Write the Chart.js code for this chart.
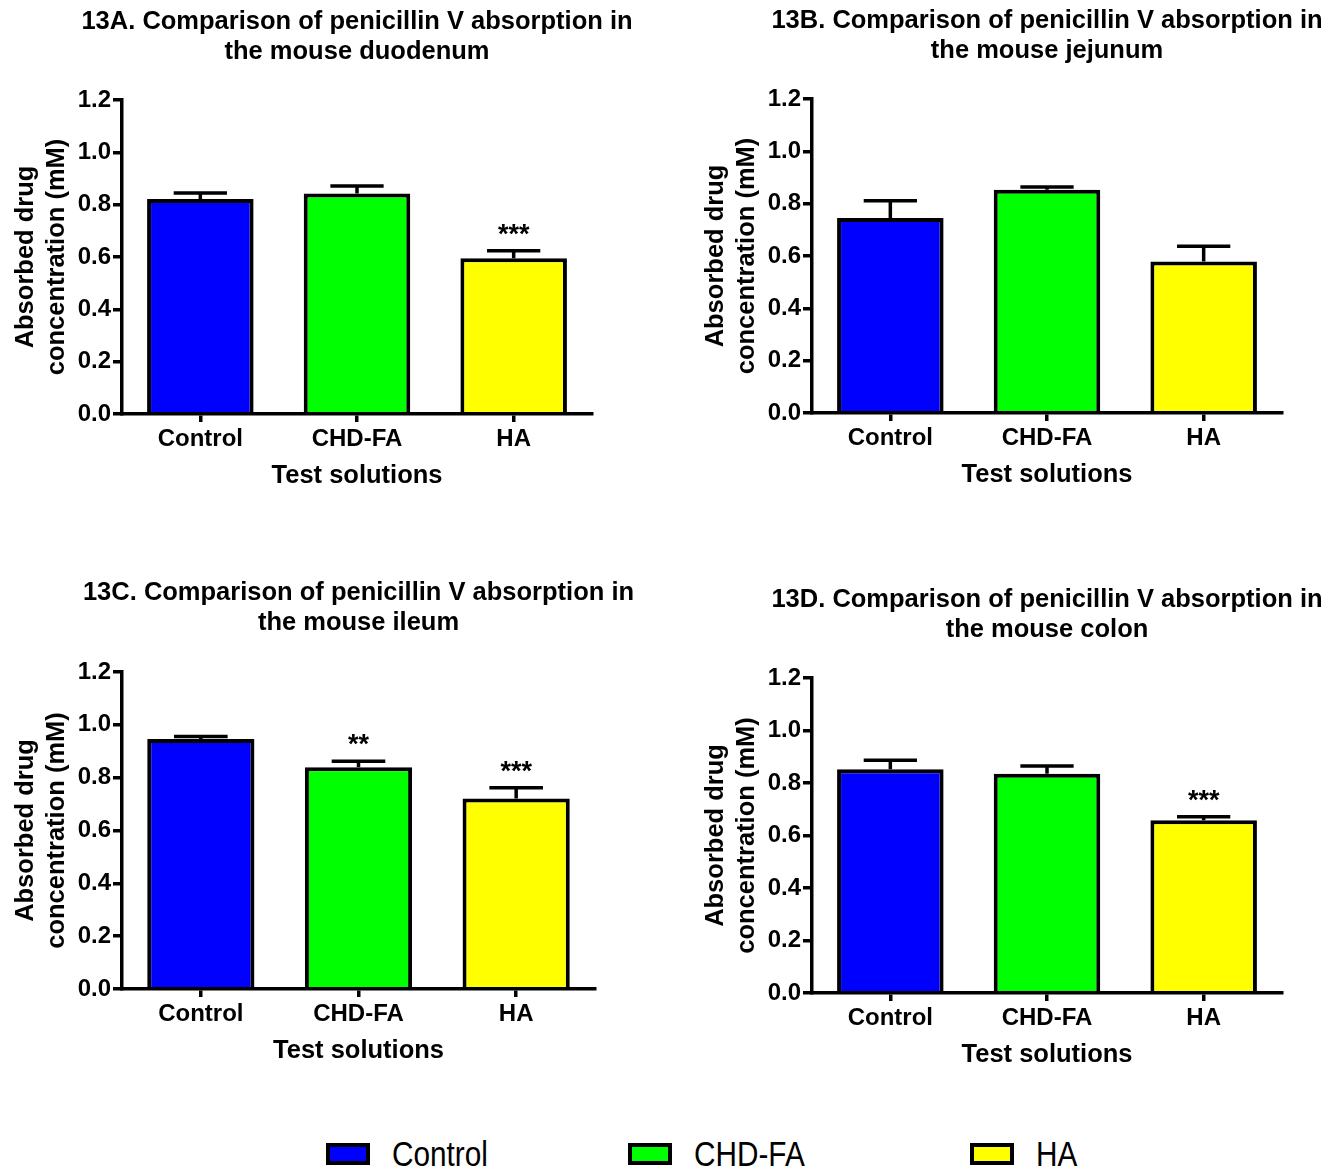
<!DOCTYPE html>
<html>
<head>
<meta charset="utf-8">
<script src="https://cdn.jsdelivr.net/npm/chart.js@4.4.0/dist/chart.umd.min.js"></script>
<style>
  html, body { margin: 0; padding: 0; background: #fff; }
  body { width: 1340px; height: 1167px; position: relative; overflow: hidden; font-family: "Liberation Sans", Arial, sans-serif; }
  canvas { position: absolute; }
  .legend-item { position: absolute; top: 1136px; height: 40px; width: 260px; }
  .swatch { position: absolute; top: 7px; left: 0; width: 44px; height: 22px; box-sizing: border-box; border: 4px solid #000; }
  .legend-label { position: absolute; left: 66px; top: 0; font-size: 35px; line-height: 35px; color: #000;
                  transform: scaleX(0.85); transform-origin: left top; white-space: nowrap; }
</style>
</head>
<body>
<canvas id="chA"></canvas>
<canvas id="chB"></canvas>
<canvas id="chC"></canvas>
<canvas id="chD"></canvas>

<div class="legend-item" style="left:326px"><div class="swatch" style="background:#0000ff"></div><div class="legend-label">Control</div></div>
<div class="legend-item" style="left:628px"><div class="swatch" style="background:#00ff00"></div><div class="legend-label">CHD-FA</div></div>
<div class="legend-item" style="left:970px"><div class="swatch" style="background:#ffff00"></div><div class="legend-label">HA</div></div>

<script>
var categories = ['Control', 'CHD-FA', 'HA'];
var barColors = ['#0000ff', '#00ff00', '#ffff00'];
var yTickLabels = ['0.0', '0.2', '0.4', '0.6', '0.8', '1.0', '1.2'];

// mean and SEM (upper error only), mM
var duodenumMean = [0.822, 0.843, 0.595];
var duodenumSem = [0.023, 0.028, 0.029];
var duodenumStars = ['', '', '***'];

var jejunumMean = [0.745, 0.853, 0.579];
var jejunumSem = [0.066, 0.011, 0.058];
var jejunumStars = ['', '', ''];

var ileumMean = [0.946, 0.839, 0.721];
var ileumSem = [0.010, 0.023, 0.041];
var ileumStars = ['', '**', '***'];

var colonMean = [0.852, 0.835, 0.658];
var colonSem = [0.035, 0.030, 0.013];
var colonStars = ['', '', '***'];

var FONT = '"Liberation Sans", Arial, sans-serif';
var AXIS_H = 100;

var panels = [
    { id: 'chA', title: ['13A. Comparison of penicillin V absorption in', 'the mouse duodenum'],
      mean: duodenumMean, sem: duodenumSem, stars: duodenumStars,
      left: 0, top: 0, width: 670, padRight: 78, titleY: 22, plotTop: 100, plotBottom: 414 },
    { id: 'chB', title: ['13B. Comparison of penicillin V absorption in', 'the mouse jejunum'],
      mean: jejunumMean, sem: jejunumSem, stars: jejunumStars,
      left: 690, top: 0, width: 650, padRight: 58, titleY: 21, plotTop: 99, plotBottom: 413 },
    { id: 'chC', title: ['13C. Comparison of penicillin V absorption in', 'the mouse ileum'],
      mean: ileumMean, sem: ileumSem, stars: ileumStars,
      left: 0, top: 571, width: 670, padRight: 75, titleY: 22, plotTop: 101, plotBottom: 418 },
    { id: 'chD', title: ['13D. Comparison of penicillin V absorption in', 'the mouse colon'],
      mean: colonMean, sem: colonSem, stars: colonStars,
      left: 690, top: 578, width: 650, padRight: 58, titleY: 22, plotTop: 100, plotBottom: 415 }
];

function makeChart(p) {
    var canvas = document.getElementById(p.id);
    canvas.width = p.width;
    canvas.height = p.plotBottom + AXIS_H;
    canvas.style.left = p.left + 'px';
    canvas.style.top = p.top + 'px';

    // error bars, significance stars and the two-line panel title
    var extras = {
        id: 'extras',
        afterDatasetsDraw: function (chart) {
            var ctx = chart.ctx;
            var y = chart.scales.y;
            var meta = chart.getDatasetMeta(0);
            ctx.save();
            ctx.strokeStyle = '#000';
            ctx.lineWidth = 3.5;
            meta.data.forEach(function (bar, i) {
                var yMean = y.getPixelForValue(p.mean[i]);
                var yTop = y.getPixelForValue(p.mean[i] + p.sem[i]);
                var half = bar.width / 4;
                ctx.beginPath();
                ctx.moveTo(bar.x, yMean);
                ctx.lineTo(bar.x, yTop);
                ctx.moveTo(bar.x - half, yTop);
                ctx.lineTo(bar.x + half, yTop);
                ctx.stroke();
                if (p.stars[i]) {
                    ctx.fillStyle = '#000';
                    ctx.font = 'bold 27px ' + FONT;
                    ctx.textAlign = 'center';
                    ctx.textBaseline = 'alphabetic';
                    ctx.fillText(p.stars[i], bar.x, yTop - 8);
                }
            });
            ctx.restore();
        },
        afterDraw: function (chart) {
            var ctx = chart.ctx;
            var area = chart.chartArea;
            var cx = (area.left + area.right) / 2;
            ctx.save();
            ctx.fillStyle = '#000';
            ctx.font = 'bold 25.5px ' + FONT;
            ctx.textAlign = 'center';
            ctx.textBaseline = 'middle';
            p.title.forEach(function (line, i) {
                ctx.fillText(line, cx, p.titleY + i * 30);
            });
            ctx.restore();
        }
    };

    new Chart(canvas, {
        type: 'bar',
        data: {
            labels: categories,
            datasets: [{
                data: p.mean,
                backgroundColor: barColors,
                borderColor: '#000',
                borderWidth: 4,
                borderSkipped: 'start',
                barPercentage: 0.68,
                categoryPercentage: 1
            }]
        },
        options: {
            responsive: false,
            animation: false,
            devicePixelRatio: 1,
            layout: { padding: { left: 0, right: p.padRight, top: p.plotTop, bottom: 0 } },
            plugins: {
                legend: { display: false },
                tooltip: { enabled: false },
                title: { display: false }
            },
            scales: {
                x: {
                    grid: { offset: false, drawOnChartArea: false, color: '#000', lineWidth: 3.5, tickLength: 8 },
                    border: { color: '#000', width: 3.5, z: 1 },
                    ticks: { color: '#000', padding: 3, maxRotation: 0, font: { family: FONT, size: 24, weight: 'bold' } },
                    title: {
                        display: true, text: 'Test solutions', color: '#000',
                        font: { family: FONT, size: 25.5, weight: 'bold', lineHeight: 1.2 },
                        padding: { top: 0, bottom: 23 }
                    },
                    afterFit: function (s) { s.height = AXIS_H; }
                },
                y: {
                    min: 0,
                    max: 1.2,
                    ticks: {
                        stepSize: 0.2, color: '#000', padding: 2,
                        font: { family: FONT, size: 24, weight: 'bold' },
                        callback: function (v, i) { return yTickLabels[i]; }
                    },
                    grid: { drawOnChartArea: false, color: '#000', lineWidth: 3.5, tickLength: 9 },
                    border: { color: '#000', width: 3.5 },
                    title: {
                        display: true, text: ['Absorbed drug', 'concentration (mM)'], color: '#000',
                        font: { family: FONT, size: 25.5, weight: 'bold', lineHeight: '31px' },
                        padding: { top: 10, bottom: 0 }
                    },
                    afterFit: function (s) { s.width = 122; }
                }
            }
        },
        plugins: [extras]
    });
}

panels.forEach(makeChart);
</script>
</body>
</html>
